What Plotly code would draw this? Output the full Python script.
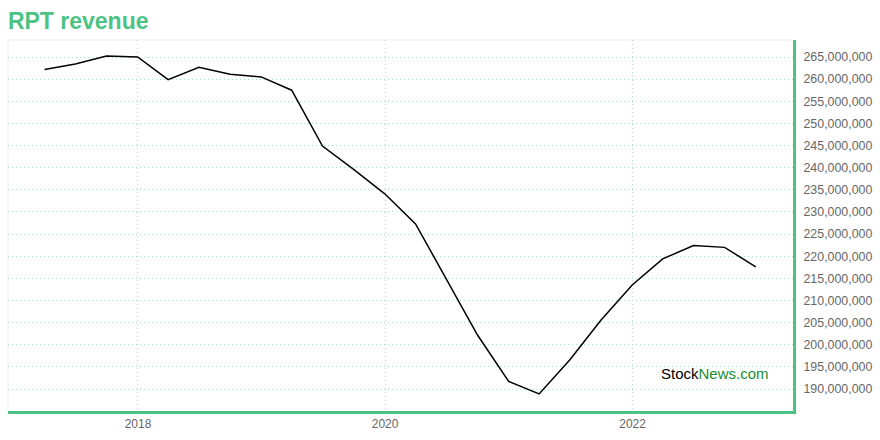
import plotly.graph_objects as go

dates = [
    "2017-03-31", "2017-06-30", "2017-09-30", "2017-12-31",
    "2018-03-31", "2018-06-30", "2018-09-30", "2018-12-31",
    "2019-03-31", "2019-06-30", "2019-09-30", "2019-12-31",
    "2020-03-31", "2020-06-30", "2020-09-30", "2020-12-31",
    "2021-03-31", "2021-06-30", "2021-09-30", "2021-12-31",
    "2022-03-31", "2022-06-30", "2022-09-30", "2022-12-31",
]
revenue = [
    262.2e6, 263.4e6, 265.2e6, 265.0e6,
    259.9e6, 262.7e6, 261.1e6, 260.5e6,
    257.5e6, 244.9e6, 239.6e6, 234.1e6,
    227.3e6, 214.8e6, 202.2e6, 191.7e6,
    188.9e6, 196.6e6, 205.6e6, 213.5e6,
    219.4e6, 222.4e6, 222.0e6, 217.6e6,
]
title_text = "RPT revenue"

GREEN = "#4cc383"
GRID = "#a9e0bd"

fig = go.Figure()
fig.add_trace(go.Scatter(x=dates, y=revenue, mode="lines",
                         line=dict(color="#000000", width=1.5),
                         hoverinfo="skip"))

fig.update_layout(
    width=880, height=440,
    margin=dict(l=8, r=87, t=40, b=29, autoexpand=False),
    paper_bgcolor="white", plot_bgcolor="white",
    showlegend=False,
    title=dict(text="<b>" + title_text + "</b>", x=0.009, xanchor="left",
               xref="container", yref="container",
               y=0.952, yanchor="middle",
               font=dict(family="Liberation Sans, Arial", size=23, color=GREEN)),
    xaxis=dict(
        type="date", automargin=False,
        range=["2016-12-13", "2023-04-20"],
        tick0="2018-01-01", dtick="M24", tickformat="%Y",
        showgrid=True, gridcolor=GRID, griddash="1px,3px", gridwidth=1,
        showline=True, linecolor=GREEN, linewidth=3,
        ticks="", zeroline=False,
        tickfont=dict(family="Liberation Sans Narrow, Arial Narrow, Liberation Sans", size=12, color="#666666"),
    ),
    yaxis=dict(
        side="right", automargin=False,
        range=[185.04e6, 268.84e6],
        tick0=190e6, dtick=5e6, tickformat=",d",
        showgrid=True, gridcolor=GRID, griddash="1px,3px", gridwidth=1,
        showline=True, linecolor=GREEN, linewidth=3,
        ticks="outside", ticklen=5, tickcolor="rgba(0,0,0,0)",
        zeroline=False,
        tickfont=dict(family="Liberation Sans, Arial", size=12.4, color="#666666"),
    ),
    shapes=[dict(type="line", xref="paper", yref="paper", x0=0, x1=0, y0=0, y1=1,
                 line=dict(color="#eeeeee", width=1), layer="below"),
            dict(type="line", xref="paper", yref="paper", x0=0, x1=1, y0=1, y1=1,
                 line=dict(color="#eeeeee", width=1), layer="below")],
    annotations=[dict(
        text="Stock<span style='color:#1a8c2e'>News.com</span>",
        xref="paper", yref="paper", x=0.901, y=0.1, xanchor="center", yanchor="middle",
        showarrow=False,
        font=dict(family="Liberation Sans, Arial", size=15, color="#000000"),
    )],
)

fig.write_html("out.html", config={"displayModeBar": False},
               post_script="document.body.style.margin='0';document.body.style.padding='0';")
